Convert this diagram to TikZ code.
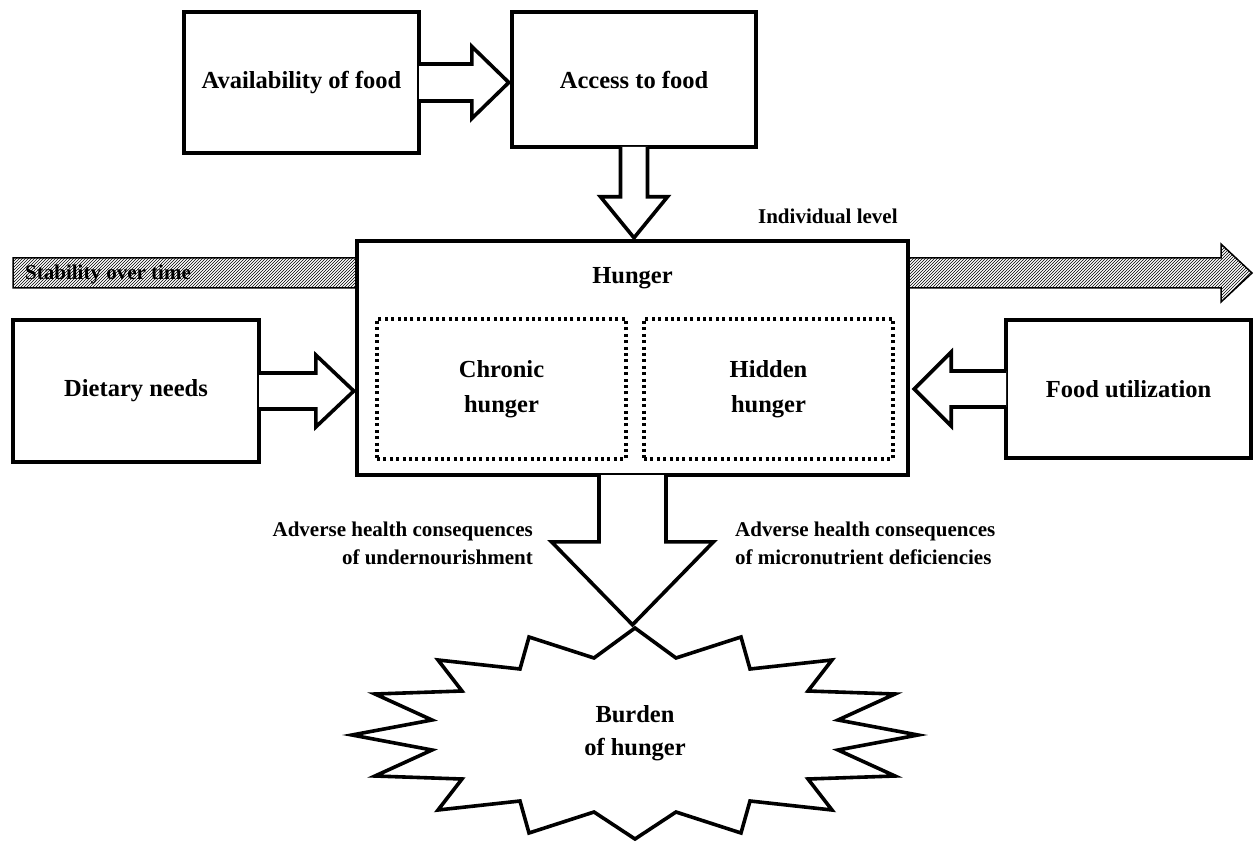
\documentclass[tikz,border=0pt]{standalone}
\usepackage{fontspec}
\setmainfont{Liberation Serif}
\usetikzlibrary{calc,patterns}

\tikzset{
	box/.style={draw, line width=3.6pt, fill=white, inner sep=0pt, align=center, font=\bfseries\fontsize{24.5}{35}\selectfont},
	dotbox/.style={draw, line width=3.2pt, dash pattern=on 3pt off 3.4pt, inner sep=0pt, align=center,
		minimum width=249pt, minimum height=140pt, font=\bfseries\fontsize{24.5}{35}\selectfont},
	title/.style={inner sep=0pt, font=\bfseries\fontsize{24.5}{33}\selectfont},
	note/.style={inner sep=0pt, font=\bfseries\fontsize{21}{28}\selectfont},
	fat/.style={draw, line width=3.6pt, fill=white, line join=miter}
}

\begin{document}
\begin{tikzpicture}[x=1pt,y=-1pt]
			\useasboundingbox (0,0) rectangle (1254,842);
			
			% stability over time, runs behind the hunger box
			\coordinate (stabL) at (13,273);
			\coordinate (stabR) at (1252,273);
			\draw[line width=1.5pt, pattern=north east lines]
				($(stabL)+(0,-15)$) -- ($(stabR)+(-31,-15)$) -- ($(stabR)+(-31,-29)$) -- (stabR)
				-- ($(stabR)+(-31,29)$) -- ($(stabR)+(-31,15)$) -- ($(stabL)+(0,15)$) -- cycle;
			\node[note, anchor=base west] (stab) at ($(stabL)+(12,7)$) {Stability over time};
			
			\node[box, minimum width=235pt, minimum height=141pt] (avail) at (301.5,82.5) {Availability of food};
			\node[box, minimum width=244pt, minimum height=135pt] (access) at (634,79.5) {Access to food};
			\node[box, minimum width=551pt, minimum height=234pt] (hunger) at (632.5,358) {};
			\node[box, minimum width=246pt, minimum height=142pt] (diet) at (136,391) {Dietary needs};
			\node[box, minimum width=245pt, minimum height=138pt] (util) at (1128.5,389) {Food utilization};
			
			\node[title, anchor=base] (hungertxt) at ($(hunger.north)+(0,44)$) {Hunger};
			\node[note, anchor=base east] (indiv) at ($(hunger.north east)+(-12,-16)$) {Individual level};
			\node[dotbox] (chronic) at (501.5,389) {Chronic\\hunger};
			\node[dotbox] (hidden) at (768.5,389) {Hidden\\hunger};
			
			% block arrows
			\draw[fat] ($(avail.east)+(-1.8,-18.5)$) -- ($(avail.east)+(51,-18.5)$) -- ($(avail.east)+(51,-36)$)
				-- ($(avail.east)+(88,0)$) -- ($(avail.east)+(51,36)$) -- ($(avail.east)+(51,18.5)$) -- ($(avail.east)+(-1.8,18.5)$);
			\draw[fat] ($(access.south)+(-13.5,-1.8)$) -- ($(access.south)+(-13.5,48)$) -- ($(access.south)+(-33.5,48)$)
				-- ($(access.south)+(0,89)$) -- ($(access.south)+(33.5,48)$) -- ($(access.south)+(13.5,48)$) -- ($(access.south)+(13.5,-1.8)$);
			\draw[fat] ($(diet.east)+(-1.8,-18)$) -- ($(diet.east)+(55,-18)$) -- ($(diet.east)+(55,-36)$)
				-- ($(diet.east)+(93,0)$) -- ($(diet.east)+(55,36)$) -- ($(diet.east)+(55,18)$) -- ($(diet.east)+(-1.8,18)$);
			\draw[fat] ($(util.west)+(1.8,-18)$) -- ($(util.west)+(-53,-18)$) -- ($(util.west)+(-53,-37)$)
				-- ($(util.west)+(-90,0)$) -- ($(util.west)+(-53,37)$) -- ($(util.west)+(-53,18)$) -- ($(util.west)+(1.8,18)$);
			\draw[fat] ($(hunger.south)+(-33.5,-1.8)$) -- ($(hunger.south)+(-33.5,65)$) -- ($(hunger.south)+(-81,65)$)
				-- ($(hunger.south)+(0,148)$) -- ($(hunger.south)+(81,65)$) -- ($(hunger.south)+(33.5,65)$) -- ($(hunger.south)+(33.5,-1.8)$);
			
			\node[note, align=right, anchor=north east] (under) at (533,522) {Adverse health consequences\\of undernourishment};
			\node[note, align=left, anchor=north west] (micro) at (735,522) {Adverse health consequences\\of micronutrient deficiencies};
			
			% burden of hunger
			\coordinate (bc) at (635,735);
			\draw[fat, shift={(bc)}] (0,-107) -- (41,-77) -- (106,-98) -- (115,-66) -- (197,-75) -- (173,-44)
				-- (260,-41) -- (203,-15) -- (283,0) -- (203,15) -- (260,41) -- (173,44) -- (197,75) -- (115,66)
				-- (106,98) -- (41,77) -- (0,104) -- (-41,77) -- (-106,98) -- (-115,66) -- (-197,75) -- (-173,44)
				-- (-260,41) -- (-203,15) -- (-283,0) -- (-203,-15) -- (-260,-41) -- (-173,-44) -- (-197,-75)
				-- (-115,-66) -- (-106,-98) -- (-41,-77) -- cycle;
			\node[title, align=center] (burden) at ($(bc)+(0,-2)$) {Burden\\of hunger};
\end{tikzpicture}
\end{document}
